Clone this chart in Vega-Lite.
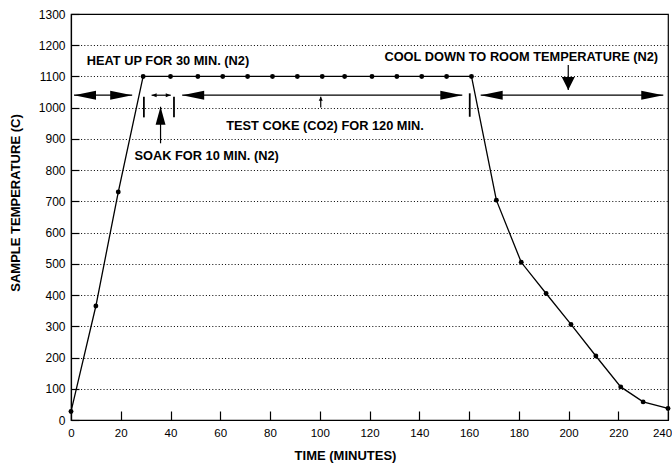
{
  "$schema": "https://vega.github.io/schema/vega-lite/v6.json",
  "width": 597,
  "height": 406,
  "autosize": "none",
  "padding": {"left": 71, "top": 14, "right": 4, "bottom": 44},
  "background": "white",
  "config": {
    "view": {"stroke": "black", "strokeWidth": 1.2},
    "font": "Liberation Sans",
    "axis": {
      "domainColor": "black",
      "domainWidth": 1.2,
      "tickColor": "black",
      "tickWidth": 1.2,
      "labelColor": "black",
      "labelFont": "Liberation Sans",
      "titleFont": "Liberation Sans",
      "titleColor": "black",
      "titleFontWeight": "bold",
      "titleFontSize": 13
    }
  },
  "encoding": {
    "x": {
      "field": "t",
      "type": "quantitative",
      "scale": {"domain": [0, 240], "nice": false, "zero": false},
      "axis": {
        "title": "TIME (MINUTES)",
        "values": [0, 20, 40, 60, 80, 100, 120, 140, 160, 180, 200, 220, 240],
        "format": "d",
        "grid": false,
        "tickSize": -9,
        "labelFontSize": 11.5,
        "labelPadding": 16,
        "labelFlush": false,
        "labelOverlap": false,
        "labelOffset": {"condition": {"test": "datum.value == 240", "value": -6}, "value": 0},
        "titleX": 274,
        "titleY": 35,
        "titleBaseline": "middle",
        "titleAnchor": "middle",
        "titleAlign": "center"
      }
    },
    "y": {
      "field": "temp",
      "type": "quantitative",
      "scale": {"domain": [0, 1300], "nice": false},
      "axis": {
        "title": "SAMPLE TEMPERATURE (C)",
        "values": [0, 100, 200, 300, 400, 500, 600, 700, 800, 900, 1000, 1100, 1200, 1300],
        "format": "d",
        "grid": true,
        "gridColor": "#000000",
        "gridDash": [1, 2.2],
        "gridWidth": 1,
        "tickSize": -8,
        "labelFontSize": 12,
        "labelPadding": 14,
        "labelOverlap": false,
        "titleAngle": -90,
        "titleX": -55.5,
        "titleY": 188.5,
        "titleAlign": "center",
        "titleBaseline": "middle"
      }
    }
  },
  "layer": [
    {
      "data": {"name": "profile", "values": [
        {"t": 0, "temp": 27}, {"t": 10, "temp": 365}, {"t": 19, "temp": 730},
        {"t": 29, "temp": 1100}, {"t": 40, "temp": 1100}, {"t": 51, "temp": 1100},
        {"t": 61, "temp": 1100}, {"t": 71, "temp": 1100}, {"t": 81, "temp": 1100},
        {"t": 91, "temp": 1100}, {"t": 101, "temp": 1100}, {"t": 110, "temp": 1100},
        {"t": 121, "temp": 1100}, {"t": 131, "temp": 1100}, {"t": 141, "temp": 1100},
        {"t": 151, "temp": 1100}, {"t": 161, "temp": 1100}, {"t": 171, "temp": 704},
        {"t": 181, "temp": 505}, {"t": 191, "temp": 405}, {"t": 201, "temp": 306},
        {"t": 211, "temp": 205}, {"t": 221, "temp": 106}, {"t": 230, "temp": 58},
        {"t": 240, "temp": 37}
      ]},
      "layer": [
        {"mark": {"type": "line", "color": "black", "strokeWidth": 1.3}},
        {"mark": {"type": "point", "filled": true, "color": "black", "opacity": 1, "size": 24}}
      ]
    },
    {
      "data": {"values": [
        {"t": 1.2, "t2": 24.6, "temp": 1040, "temp2": 1040},
        {"t": 32.4, "t2": 40.1, "temp": 1040, "temp2": 1040},
        {"t": 44.7, "t2": 157.3, "temp": 1040, "temp2": 1040},
        {"t": 164.7, "t2": 238.1, "temp": 1040, "temp2": 1040},
        {"t": 36, "t2": 36, "temp": 886, "temp2": 1003},
        {"t": 100.4, "t2": 100.4, "temp": 1001, "temp2": 1035},
        {"t": 199.9, "t2": 199.9, "temp": 1137, "temp2": 1057}
      ]},
      "mark": {"type": "rule", "color": "black", "strokeWidth": 1.2},
      "encoding": {"x2": {"field": "t2"}, "y2": {"field": "temp2"}}
    },
    {
      "data": {"values": [
        {"t": 29.3, "t2": 29.3, "temp": 969, "temp2": 1035},
        {"t": 41.4, "t2": 41.4, "temp": 969, "temp2": 1035},
        {"t": 160.3, "t2": 160.3, "temp": 971, "temp2": 1046}
      ]},
      "mark": {"type": "rule", "color": "black", "strokeWidth": 1.8},
      "encoding": {"x2": {"field": "t2"}, "y2": {"field": "temp2"}}
    },
    {
      "data": {"values": [{"t": 1.2, "temp": 1040}, {"t": 44.7, "temp": 1040}, {"t": 164.7, "temp": 1040}]},
      "mark": {"type": "point", "shape": "M0 0 L2 -0.41 L2 0.41 Z", "size": 484, "filled": true, "color": "black", "opacity": 1}
    },
    {
      "data": {"values": [{"t": 24.6, "temp": 1040}, {"t": 157.3, "temp": 1040}, {"t": 238.1, "temp": 1040}]},
      "mark": {"type": "point", "shape": "M0 0 L-2 -0.41 L-2 0.41 Z", "size": 484, "filled": true, "color": "black", "opacity": 1}
    },
    {
      "data": {"values": [{"t": 36, "temp": 1003}]},
      "mark": {"type": "point", "shape": "M0 0 L-0.55 2 L0.55 2 Z", "size": 324, "filled": true, "color": "black", "opacity": 1}
    },
    {
      "data": {"values": [{"t": 199.9, "temp": 1057}]},
      "mark": {"type": "point", "shape": "M0 0 L-1 -2 L1 -2 Z", "size": 169, "filled": true, "color": "black", "opacity": 1}
    },
    {
      "data": {"values": [{"t": 32.4, "temp": 1040}]},
      "mark": {"type": "point", "shape": "M0 0 L2 -0.8 L2 0.8 Z", "size": 25, "filled": true, "color": "black", "opacity": 1}
    },
    {
      "data": {"values": [{"t": 40.1, "temp": 1040}]},
      "mark": {"type": "point", "shape": "M0 0 L-2 -0.8 L-2 0.8 Z", "size": 25, "filled": true, "color": "black", "opacity": 1}
    },
    {
      "data": {"values": [{"t": 100.4, "temp": 1035}]},
      "mark": {"type": "point", "shape": "M0 0 L-1 2 L1 2 Z", "size": 16, "filled": true, "color": "black", "opacity": 1}
    },
    {
      "data": {"values": [
        {"t": 6.35, "temp": 1148, "label": "HEAT UP FOR 30 MIN. (N2)"},
        {"t": 25.5, "temp": 845, "label": "SOAK FOR 10 MIN. (N2)"},
        {"t": 62.4, "temp": 941, "label": "TEST COKE (CO2) FOR 120 MIN."},
        {"t": 126.0, "temp": 1161, "label": "COOL DOWN TO ROOM TEMPERATURE (N2)"}
      ]},
      "mark": {"type": "text", "align": "left", "baseline": "middle", "font": "Liberation Sans", "fontWeight": "bold", "fontSize": 12.8, "color": "black"},
      "encoding": {"text": {"field": "label"}}
    }
  ]
}
